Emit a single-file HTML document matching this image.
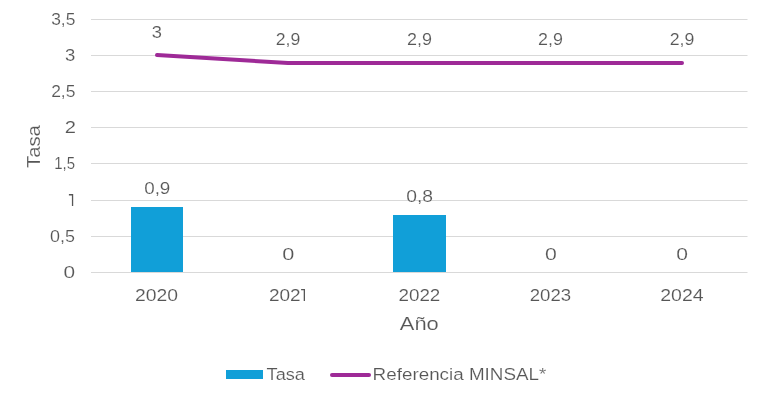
<!DOCTYPE html>
<html><head><meta charset="utf-8">
<style>
html,body{margin:0;padding:0;background:#fff;width:769px;height:400px;overflow:hidden}
svg{display:block;will-change:transform}
text{font-family:"Liberation Sans",sans-serif;fill:#565656;stroke:#fff;stroke-width:0.15px}
</style></head>
<body>
<svg width="769" height="400" viewBox="0 0 769 400">
<rect width="769" height="400" fill="#fff"/>
<g stroke="#d9d9d9" stroke-width="1"><line x1="91" x2="747.5" y1="19.5" y2="19.5"/><line x1="91" x2="747.5" y1="55.5" y2="55.5"/><line x1="91" x2="747.5" y1="91.5" y2="91.5"/><line x1="91" x2="747.5" y1="127.5" y2="127.5"/><line x1="91" x2="747.5" y1="163.5" y2="163.5"/><line x1="91" x2="747.5" y1="200.5" y2="200.5"/><line x1="91" x2="747.5" y1="236.5" y2="236.5"/><line x1="91" x2="747.5" y1="272.5" y2="272.5"/></g>
<rect x="131" y="207" width="52" height="65" fill="#119fd8"/>
<rect x="393" y="215" width="53" height="57" fill="#119fd8"/>
<polyline points="157,55.1 288,63 419.2,63 550.5,63 682,63" fill="none" stroke="#9e2a97" stroke-width="4" stroke-linecap="round" stroke-linejoin="round"/>
<text font-size="17" transform="translate(51.20,24.8) scale(1.0238,1)">3,5</text>
<text font-size="17" transform="translate(64.96,60.8) scale(1.0889,1)">3</text>
<text font-size="17" transform="translate(51.13,96.7) scale(1.0271,1)">2,5</text>
<text font-size="17" transform="translate(64.69,132.9) scale(1.1894,1)">2</text>
<text font-size="17" transform="translate(54.18,168.8) scale(0.8812,1)">1,5</text>
<text font-size="17" transform="translate(50.08,242.1) scale(1.0552,1)">0,5</text>
<text font-size="17" transform="translate(63.57,277.9) scale(1.2260,1)">0</text>
<text font-size="17" transform="translate(134.88,300.9) scale(1.1393,1)">2020</text>
<text font-size="17" transform="translate(268.92,300.9) scale(1.1195,1)">202</text>
<text font-size="17" transform="translate(398.46,300.9) scale(1.1073,1)">2022</text>
<text font-size="17" transform="translate(529.74,300.9) scale(1.0958,1)">2023</text>
<text font-size="17" transform="translate(660.22,300.9) scale(1.1490,1)">2024</text>
<text font-size="17" transform="translate(151.77,37.9) scale(1.0763,1)">3</text>
<text font-size="17" transform="translate(275.72,44.8) scale(1.0397,1)">2,9</text>
<text font-size="17" transform="translate(407.00,44.8) scale(1.0579,1)">2,9</text>
<text font-size="17" transform="translate(538.00,44.8) scale(1.0534,1)">2,9</text>
<text font-size="17" transform="translate(669.71,44.8) scale(1.0442,1)">2,9</text>
<text font-size="17" transform="translate(144.15,194.0) scale(1.1086,1)">0,9</text>
<text font-size="17" transform="translate(406.23,201.55) scale(1.1359,1)">0,8</text>
<text font-size="17" transform="translate(282.13,259.8) scale(1.2755,1)">0</text>
<text font-size="17" transform="translate(545.05,259.8) scale(1.2508,1)">0</text>
<text font-size="17" transform="translate(676.26,259.8) scale(1.2384,1)">0</text>
<text font-size="19" transform="translate(399.79,329.6) scale(1.1527,1)">Año</text>
<text font-size="17" transform="translate(266.55,379.7) scale(1.0693,1)">Tasa</text>
<text font-size="17" transform="translate(372.59,379.8) scale(1.1088,1)">Referencia MINSAL*</text>
<text font-size="19" transform="translate(39.55,168.01) rotate(-90) scale(1.0678,1)">Tasa</text>
<path d="M68.9 194.1H73.2V205.9H71.9V195.4H68.9Z M301.1 289H305V300.9H303.7V290.3H301.1Z" fill="#565656"/>
<rect x="226" y="370" width="37" height="9" fill="#119fd8"/>
<line x1="332" x2="369" y1="375" y2="375" stroke="#9e2a97" stroke-width="4" stroke-linecap="round"/>
</svg>
</body></html>
